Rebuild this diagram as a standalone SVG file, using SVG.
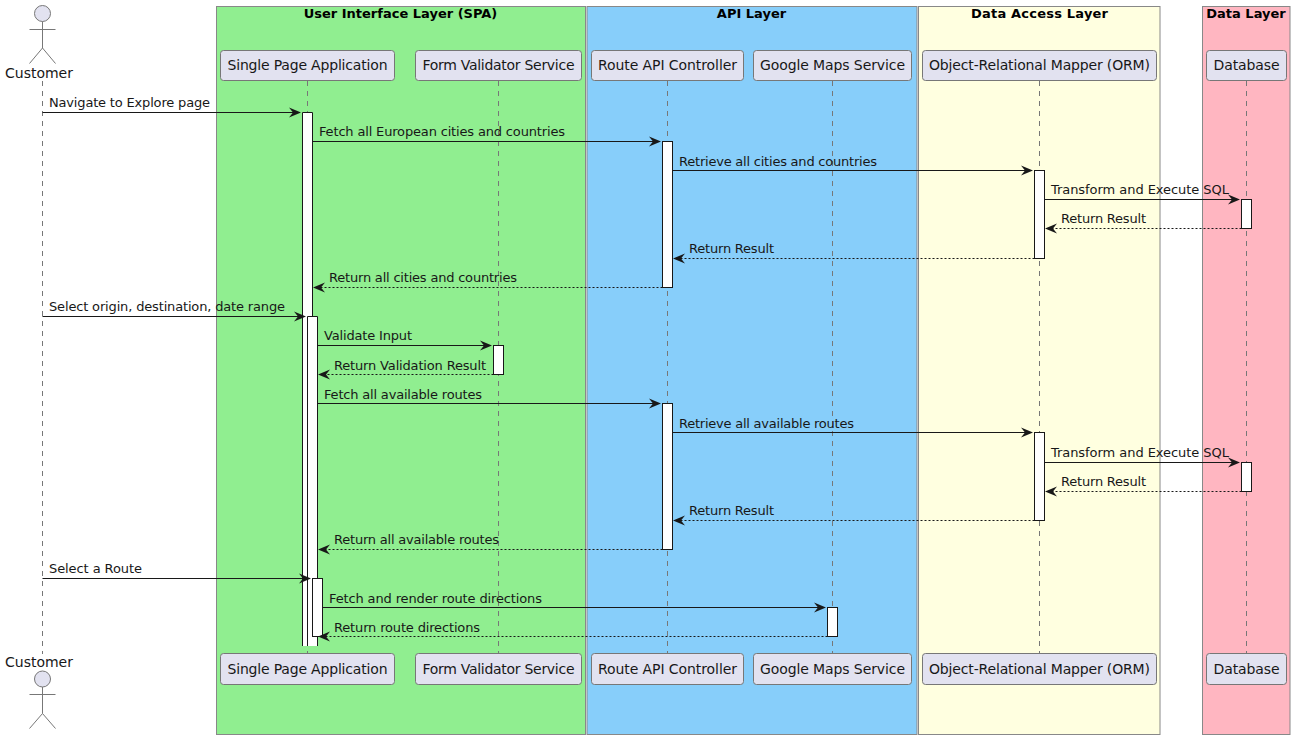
<svg xmlns="http://www.w3.org/2000/svg" width="1295" height="739" viewBox="0 0 1295 739">
<defs>
<style>
text{font-family:"DejaVu Sans",sans-serif;fill:#000}
.lane{stroke:#888;stroke-width:1}
.title{font-size:13px;font-weight:bold;text-anchor:middle}
.p{fill:#E2E2F0;stroke:#777;stroke-width:1}
.pt{font-size:14px;text-anchor:middle;fill:#181818}
.life{stroke:#777;stroke-width:1;stroke-dasharray:5,5;fill:none}
.act{fill:#fff;stroke:#181818;stroke-width:1}
.actor{fill:#E2E2F0;stroke:#777;stroke-width:1}
.limb{fill:none;stroke:#777;stroke-width:1}
.m{stroke:#181818;stroke-width:1;fill:none}
.r{stroke:#181818;stroke-width:1;stroke-dasharray:2,2;fill:none}
.ml{font-size:13px;fill:#181818}
.ah{fill:#181818}
</style>
</defs>
<rect width="1295" height="739" fill="#fff"/>
<g id="layers">
<g id="layer-ui"><rect class="lane" x="216.5" y="6.5" width="369" height="728" fill="#90EE90"/><text class="title" x="400.5" y="18">User Interface Layer (SPA)</text></g>
<g id="layer-api"><rect class="lane" x="587" y="6.5" width="330" height="728" fill="#87CEFA"/><text class="title" x="751.5" y="18">API Layer</text></g>
<g id="layer-data-access"><rect class="lane" x="918.5" y="6.5" width="241.5" height="728" fill="#FFFFE0"/><text class="title" x="1039.5" y="18" textLength="137">Data Access Layer</text></g>
<g id="layer-data"><rect class="lane" x="1202.5" y="6.5" width="87.5" height="728" fill="#FFB6C1"/><text class="title" x="1246" y="18">Data Layer</text></g>
</g>
<g id="lifelines">
<path class="life" d="M42.5 81V654M307.5 81V654M498.5 81V654M667.5 81V654M832.5 81V654M1039.5 81V654M1246.5 81V654"/>
</g>
<g id="activations">
<path class="act" d="M302.5 646V112.5H312.5V646"/>
<path class="act" d="M307.5 646V316.5H317.5V646"/>
<rect class="act" x="312.5" y="578.5" width="10" height="58"/>
<rect class="act" x="662.5" y="141.5" width="10" height="146"/>
<rect class="act" x="662.5" y="403.5" width="10" height="146"/>
<rect class="act" x="1034.5" y="170.5" width="10" height="88"/>
<rect class="act" x="1034.5" y="432.5" width="10" height="88"/>
<rect class="act" x="1241.5" y="199.5" width="10" height="29"/>
<rect class="act" x="1241.5" y="462.5" width="10" height="29"/>
<rect class="act" x="493.5" y="345.5" width="10" height="29"/>
<rect class="act" x="827.5" y="607.5" width="10" height="29"/>
</g>
<g id="customer">
<circle class="actor" cx="42.5" cy="13.5" r="8"/>
<path class="limb" d="M42.5 21.5V48M29.5 29.5H55.5M29.5 63.5L42.5 48L55.5 63.5"/>
<text class="pt" x="39" y="78" textLength="68">Customer</text>
<circle class="actor" cx="42.5" cy="679" r="8"/>
<path class="limb" d="M42.5 687V713.5M29.5 694.5H55.5M29.5 728.5L42.5 713.5L55.5 728.5"/>
<text class="pt" x="39" y="667" textLength="68">Customer</text>
</g>
<g id="spa">
<rect class="p" x="220.5" y="50.5" width="174" height="30" rx="3"/><text class="pt" x="307.5" y="70" textLength="160">Single Page Application</text>
<rect class="p" x="220.5" y="653.5" width="174" height="31" rx="3"/><text class="pt" x="307.5" y="674" textLength="160">Single Page Application</text>
</g>
<g id="form-validator">
<rect class="p" x="415.5" y="50.5" width="166" height="30" rx="3"/><text class="pt" x="498.5" y="70" textLength="152">Form Validator Service</text>
<rect class="p" x="415.5" y="653.5" width="166" height="31" rx="3"/><text class="pt" x="498.5" y="674" textLength="152">Form Validator Service</text>
</g>
<g id="route-api">
<rect class="p" x="591.5" y="50.5" width="152" height="30" rx="3"/><text class="pt" x="667.5" y="70" textLength="139">Route API Controller</text>
<rect class="p" x="591.5" y="653.5" width="152" height="31" rx="3"/><text class="pt" x="667.5" y="674" textLength="139">Route API Controller</text>
</g>
<g id="google-maps">
<rect class="p" x="753.5" y="50.5" width="158" height="30" rx="3"/><text class="pt" x="832.5" y="70" textLength="145">Google Maps Service</text>
<rect class="p" x="753.5" y="653.5" width="158" height="31" rx="3"/><text class="pt" x="832.5" y="674" textLength="145">Google Maps Service</text>
</g>
<g id="orm">
<rect class="p" x="922.5" y="50.5" width="234" height="30" rx="3"/><text class="pt" x="1039.5" y="70" textLength="221">Object-Relational Mapper (ORM)</text>
<rect class="p" x="922.5" y="653.5" width="234" height="31" rx="3"/><text class="pt" x="1039.5" y="674" textLength="221">Object-Relational Mapper (ORM)</text>
</g>
<g id="database">
<rect class="p" x="1206.5" y="50.5" width="80" height="30" rx="3"/><text class="pt" x="1246.5" y="70" textLength="66">Database</text>
<rect class="p" x="1206.5" y="653.5" width="80" height="31" rx="3"/><text class="pt" x="1246.5" y="674" textLength="66">Database</text>
</g>
<g id="connectors">
<path class="m" d="M42.5 112.5H297"/><polygon class="ah" points="289,107.5 301,112.5 289,117.5 293,112.5"/><text class="ml" x="49" y="107" textLength="161">Navigate to Explore page</text>
<path class="m" d="M312.5 141.5H657"/><polygon class="ah" points="649,136.5 661,141.5 649,146.5 653,141.5"/><text class="ml" x="319" y="136" textLength="246">Fetch all European cities and countries</text>
<path class="m" d="M672.5 170.5H1029"/><polygon class="ah" points="1021,165.5 1033,170.5 1021,175.5 1025,170.5"/><text class="ml" x="679" y="166" textLength="198">Retrieve all cities and countries</text>
<path class="m" d="M1044.5 199.5H1236"/><polygon class="ah" points="1228,194.5 1240,199.5 1228,204.5 1232,199.5"/><text class="ml" x="1051" y="194" textLength="178">Transform and Execute SQL</text>
<path class="r" d="M1241.5 228.5H1049"/><polygon class="ah" points="1057,223.5 1045,228.5 1057,233.5 1053,228.5"/><text class="ml" x="1061" y="223" textLength="85">Return Result</text>
<path class="r" d="M1034.5 258.5H677"/><polygon class="ah" points="685,253.5 673,258.5 685,263.5 681,258.5"/><text class="ml" x="689" y="253" textLength="85">Return Result</text>
<path class="r" d="M662.5 287.5H317"/><polygon class="ah" points="325,282.5 313,287.5 325,292.5 321,287.5"/><text class="ml" x="329" y="282" textLength="188">Return all cities and countries</text>
<path class="m" d="M42.5 316.5H302"/><polygon class="ah" points="294,311.5 306,316.5 294,321.5 298,316.5"/><text class="ml" x="49" y="311" textLength="236">Select origin, destination, date range</text>
<path class="m" d="M317.5 345.5H488"/><polygon class="ah" points="480,340.5 492,345.5 480,350.5 484,345.5"/><text class="ml" x="324" y="340" textLength="88">Validate Input</text>
<path class="r" d="M493.5 374.5H322"/><polygon class="ah" points="330,369.5 318,374.5 330,379.5 326,374.5"/><text class="ml" x="334" y="370" textLength="152">Return Validation Result</text>
<path class="m" d="M317.5 403.5H657"/><polygon class="ah" points="649,398.5 661,403.5 649,408.5 653,403.5"/><text class="ml" x="324" y="399" textLength="158">Fetch all available routes</text>
<path class="m" d="M672.5 432.5H1029"/><polygon class="ah" points="1021,427.5 1033,432.5 1021,437.5 1025,432.5"/><text class="ml" x="679" y="428" textLength="175">Retrieve all available routes</text>
<path class="m" d="M1044.5 462.5H1236"/><polygon class="ah" points="1228,457.5 1240,462.5 1228,467.5 1232,462.5"/><text class="ml" x="1051" y="457" textLength="178">Transform and Execute SQL</text>
<path class="r" d="M1241.5 491.5H1049"/><polygon class="ah" points="1057,486.5 1045,491.5 1057,496.5 1053,491.5"/><text class="ml" x="1061" y="486" textLength="85">Return Result</text>
<path class="r" d="M1034.5 520.5H677"/><polygon class="ah" points="685,515.5 673,520.5 685,525.5 681,520.5"/><text class="ml" x="689" y="515" textLength="85">Return Result</text>
<path class="r" d="M662.5 549.5H322"/><polygon class="ah" points="330,544.5 318,549.5 330,554.5 326,549.5"/><text class="ml" x="334" y="544" textLength="165">Return all available routes</text>
<path class="m" d="M42.5 578.5H307"/><polygon class="ah" points="299,573.5 311,578.5 299,583.5 303,578.5"/><text class="ml" x="49" y="573" textLength="93">Select a Route</text>
<path class="m" d="M322.5 607.5H822"/><polygon class="ah" points="814,602.5 826,607.5 814,612.5 818,607.5"/><text class="ml" x="329" y="603" textLength="213">Fetch and render route directions</text>
<path class="r" d="M827.5 636.5H323"/><polygon class="ah" points="330,631.5 318,636.5 330,641.5 326,636.5"/><text class="ml" x="334" y="632" textLength="146">Return route directions</text>
</g>
</svg>
